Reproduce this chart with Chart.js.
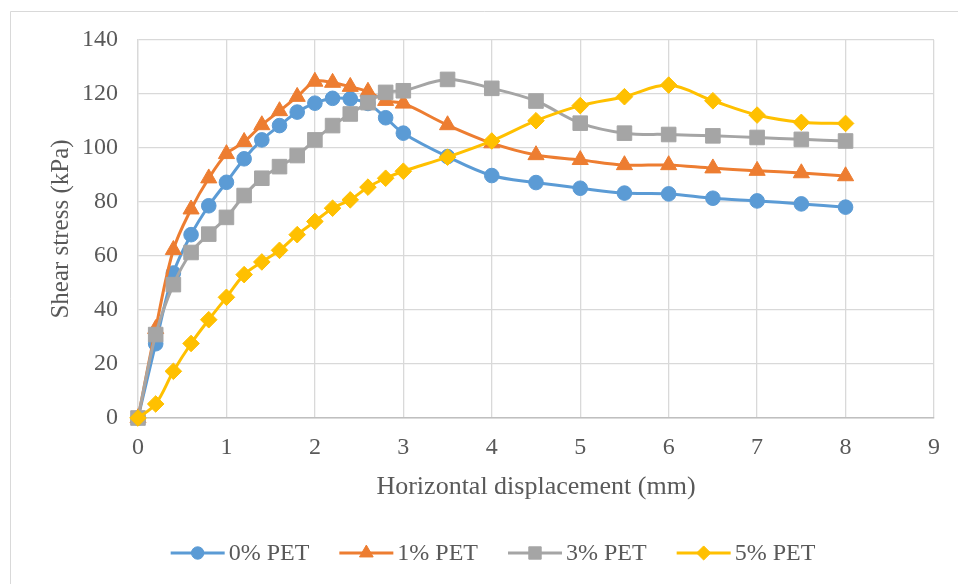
<!DOCTYPE html>
<html>
<head>
<meta charset="utf-8">
<script src="https://cdn.jsdelivr.net/npm/chart.js@4.4.1/dist/chart.umd.min.js"></script>
<style>
  html, body { margin: 0; padding: 0; background: #ffffff; }
  #wrap { position: relative; width: 958px; height: 584px; }
  canvas { display: block; }
</style>
</head>
<body>
<div id="wrap"><canvas id="c" width="958" height="584"></canvas></div>
<script>
// ---- data ----
const displacement = [0, 0.2, 0.4, 0.6, 0.8, 1.0, 1.2, 1.4, 1.6, 1.8, 2.0, 2.2, 2.4, 2.6, 2.8, 3.0, 3.5, 4, 4.5, 5, 5.5, 6, 6.5, 7, 7.5, 8];
const pet0 = [0, 27.5, 53.7, 67.9, 78.6, 87.3, 96, 103, 108.3, 113.3, 116.6, 118.4, 118.2, 116.5, 111.2, 105.5, 96.8, 89.8, 87.2, 85.1, 83.3, 83, 81.4, 80.4, 79.3, 78.1];
const pet1 = [0, 33, 62.3, 77.3, 88.8, 97.8, 102.3, 108.5, 113.7, 119, 124.6, 124.2, 122.7, 120.9, 117.5, 116.5, 108.5, 101.8, 97.4, 95.6, 93.7, 93.7, 92.5, 91.6, 90.7, 89.6];
const pet3 = [0, 30.9, 49.4, 61.3, 68.1, 74.3, 82.4, 88.8, 93.1, 97.2, 103, 108.3, 112.6, 116.8, 120.6, 121.2, 125.4, 122.1, 117.4, 109.2, 105.5, 105, 104.5, 103.9, 103.2, 102.6];
const pet5 = [0, 5.2, 17.3, 27.6, 36.4, 44.7, 53.1, 57.8, 62.1, 67.9, 72.8, 77.7, 80.8, 85.5, 88.8, 91.4, 96.6, 102.6, 110.1, 115.7, 119, 123.3, 117.5, 112.2, 109.5, 109.1];
const seriesNames = ['0% PET', '1% PET', '3% PET', '5% PET'];
const xTitle = 'Horizontal displacement (mm)';
const yTitle = 'Shear stress (kPa)';

const colors = ['#5B9BD5', '#ED7D31', '#A5A5A5', '#FFC000'];
const styles = ['circle', 'triangle', 'rect', 'rectRot'];
const radii = [7.3, 9.3, 10.3, 8.3];
const FONT = '"Liberation Serif", "Times New Roman", serif';
const TEXT = '#595959';
const FS = 24;

function pts(ys) { return displacement.map((x, i) => ({ x: x, y: ys[i] })); }
const allSeries = [pet0, pet1, pet3, pet5];

const datasets = allSeries.map((ys, i) => ({
  label: seriesNames[i],
  data: pts(ys),
  borderColor: colors[i],
  backgroundColor: colors[i],
  borderWidth: 3,
  pointStyle: styles[i],
  pointRadius: radii[i],
  pointHoverRadius: radii[i],
  pointBorderWidth: 1,
  pointBorderColor: colors[i],
  pointBackgroundColor: colors[i],
  tension: 0.35,
  order: 4 - i,
  clip: false,
  fill: false
}));

const framePlugin = {
  id: 'frame',
  beforeDraw(chart) {
    const ctx = chart.ctx;
    ctx.save();
    ctx.fillStyle = '#ffffff';
    ctx.fillRect(0, 0, chart.width, chart.height);
    ctx.strokeStyle = '#d9d9d9';
    ctx.lineWidth = 1;
    ctx.beginPath();
    ctx.moveTo(10.5, chart.height + 2);
    ctx.lineTo(10.5, 11.5);
    ctx.lineTo(chart.width + 2, 11.5);
    ctx.stroke();
    ctx.restore();
  }
};

function drawMarker(ctx, style, x, y, r, color) {
  ctx.save();
  ctx.fillStyle = color;
  ctx.strokeStyle = color;
  ctx.lineWidth = 1;
  ctx.beginPath();
  if (style === 'circle') {
    ctx.arc(x, y, r, 0, Math.PI * 2);
  } else if (style === 'triangle') {
    for (let k = 0; k < 3; k++) {
      const a = k * 2 * Math.PI / 3;
      const px = x + Math.sin(a) * r, py = y - Math.cos(a) * r;
      if (k === 0) ctx.moveTo(px, py); else ctx.lineTo(px, py);
    }
    ctx.closePath();
  } else if (style === 'rect') {
    const s = Math.SQRT1_2 * r;
    ctx.rect(x - s, y - s, 2 * s, 2 * s);
  } else {
    ctx.moveTo(x - r, y); ctx.lineTo(x, y - r); ctx.lineTo(x + r, y); ctx.lineTo(x, y + r);
    ctx.closePath();
  }
  ctx.fill();
  ctx.stroke();
  ctx.restore();
}

const legendPlugin = {
  id: 'customLegend',
  afterDraw(chart) {
    const ctx = chart.ctx;
    ctx.save();
    ctx.font = FS + 'px ' + FONT;
    ctx.textBaseline = 'middle';
    ctx.textAlign = 'left';
    const lineLen = 54, gap = 4, sep = 30;
    const ds = chart.data.datasets;
    const widths = ds.map(d => ctx.measureText(d.label).width);
    let total = 0;
    widths.forEach((w, i) => { total += lineLen + gap + w + (i < widths.length - 1 ? sep : 0); });
    let x = 493 - total / 2;
    const y = 553;
    ds.forEach((d, i) => {
      ctx.strokeStyle = colors[i];
      ctx.lineWidth = 3;
      ctx.beginPath();
      ctx.moveTo(x, y);
      ctx.lineTo(x + lineLen, y);
      ctx.stroke();
      drawMarker(ctx, styles[i], x + lineLen / 2, y, radii[i] * 0.85, colors[i]);
      ctx.fillStyle = TEXT;
      ctx.fillText(d.label, x + lineLen + gap, y + 1);
      x += lineLen + gap + widths[i] + sep;
    });
    ctx.restore();
  }
};

new Chart(document.getElementById('c'), {
  type: 'line',
  data: { datasets: datasets },
  plugins: [framePlugin, legendPlugin],
  options: {
    responsive: false,
    animation: false,
    devicePixelRatio: 1,
    layout: { padding: { left: 0, top: 40, right: 24, bottom: 79 } },
    plugins: { legend: { display: false }, tooltip: { enabled: false } },
    scales: {
      x: {
        type: 'linear',
        min: 0, max: 9,
        ticks: { stepSize: 1, color: TEXT, font: { family: FONT, size: FS }, padding: 15, maxRotation: 0 },
        grid: { color: '#d9d9d9', lineWidth: 1.3, drawTicks: false },
        border: { color: '#bfbfbf', width: 1.5 },
        title: { display: true, text: xTitle, color: TEXT, font: { family: FONT, size: 26 }, padding: { top: 0, bottom: 2.5 } },
        afterFit(scale) { scale.height = 87; }
      },
      y: {
        type: 'linear',
        min: 0, max: 140,
        ticks: { stepSize: 20, color: TEXT, font: { family: FONT, size: FS }, padding: 20 },
        grid: { color: '#d9d9d9', lineWidth: 1.3, drawTicks: false },
        border: { color: '#d9d9d9', width: 1.3 },
        title: { display: true, text: yTitle, color: TEXT, font: { family: FONT, size: 25 }, padding: { top: 46, bottom: 0 } },
        afterFit(scale) { scale.width = 138; }
      }
    }
  }
});
</script>
</body>
</html>
